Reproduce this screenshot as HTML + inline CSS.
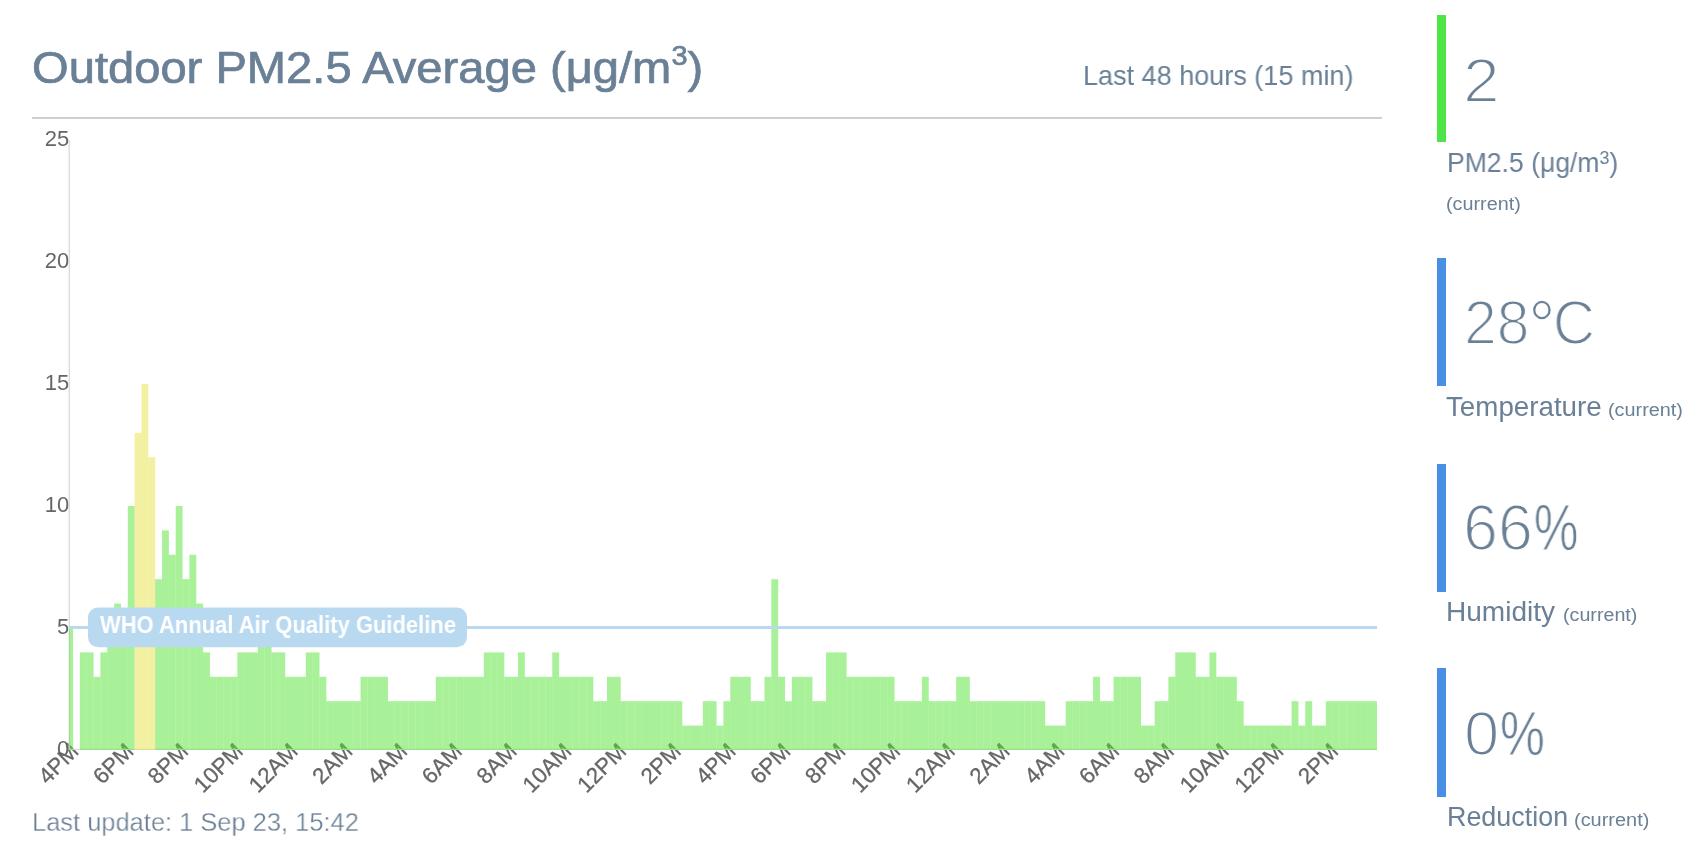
<!DOCTYPE html>
<html><head><meta charset="utf-8">
<style>
html,body{margin:0;padding:0;background:#fff;}
body{width:1700px;height:852px;position:relative;overflow:hidden;font-family:"Liberation Sans",sans-serif;}
.t{position:absolute;white-space:nowrap;color:#6a8096;line-height:1;transform-origin:0 0;will-change:transform;}
#hr{position:absolute;left:32px;top:117px;width:1350px;height:2px;background:#cfcfcf;}
.bar{position:absolute;left:1437px;width:9px;}
svg{position:absolute;left:0;top:0;will-change:transform;}
</style></head><body>
<div class="t" style="left:31.61px;top:45.80px;font-size:44.0px;font-weight:normal;transform:scaleX(1.0713);-webkit-text-stroke:0.7px #6a8096;">Outdoor PM2.5 Average (μg/m<span style="font-size:27px;position:relative;top:-17.8px">3</span>)</div>
<div class="t" style="left:1083.14px;top:62.00px;font-size:27.6px;font-weight:normal;transform:scaleX(0.9795);">Last 48 hours (15 min)</div>
<div id="hr"></div>
<svg width="1700" height="852" viewBox="0 0 1700 852">
<g font-family="Liberation Sans, sans-serif" font-size="22.3" fill="#666" stroke="#666" stroke-width="0.3">
<text transform="translate(80.00,752.7) rotate(-45)" text-anchor="end">4PM</text>
<text transform="translate(134.77,752.7) rotate(-45)" text-anchor="end">6PM</text>
<text transform="translate(189.54,752.7) rotate(-45)" text-anchor="end">8PM</text>
<text transform="translate(244.31,752.7) rotate(-45)" text-anchor="end">10PM</text>
<text transform="translate(299.08,752.7) rotate(-45)" text-anchor="end">12AM</text>
<text transform="translate(353.85,752.7) rotate(-45)" text-anchor="end">2AM</text>
<text transform="translate(408.62,752.7) rotate(-45)" text-anchor="end">4AM</text>
<text transform="translate(463.39,752.7) rotate(-45)" text-anchor="end">6AM</text>
<text transform="translate(518.16,752.7) rotate(-45)" text-anchor="end">8AM</text>
<text transform="translate(572.93,752.7) rotate(-45)" text-anchor="end">10AM</text>
<text transform="translate(627.70,752.7) rotate(-45)" text-anchor="end">12PM</text>
<text transform="translate(682.47,752.7) rotate(-45)" text-anchor="end">2PM</text>
<text transform="translate(737.24,752.7) rotate(-45)" text-anchor="end">4PM</text>
<text transform="translate(792.01,752.7) rotate(-45)" text-anchor="end">6PM</text>
<text transform="translate(846.78,752.7) rotate(-45)" text-anchor="end">8PM</text>
<text transform="translate(901.55,752.7) rotate(-45)" text-anchor="end">10PM</text>
<text transform="translate(956.32,752.7) rotate(-45)" text-anchor="end">12AM</text>
<text transform="translate(1011.09,752.7) rotate(-45)" text-anchor="end">2AM</text>
<text transform="translate(1065.86,752.7) rotate(-45)" text-anchor="end">4AM</text>
<text transform="translate(1120.63,752.7) rotate(-45)" text-anchor="end">6AM</text>
<text transform="translate(1175.40,752.7) rotate(-45)" text-anchor="end">8AM</text>
<text transform="translate(1230.17,752.7) rotate(-45)" text-anchor="end">10AM</text>
<text transform="translate(1284.94,752.7) rotate(-45)" text-anchor="end">12PM</text>
<text transform="translate(1339.71,752.7) rotate(-45)" text-anchor="end">2PM</text>
</g>
<g font-family="Liberation Sans, sans-serif" fill="#666">
<text x="69.3" y="756.0" text-anchor="end" font-size="22">0</text>
<text x="69.3" y="634.0" text-anchor="end" font-size="22">5</text>
<text x="69.3" y="512.0" text-anchor="end" font-size="22">10</text>
<text x="69.3" y="390.0" text-anchor="end" font-size="22">15</text>
<text x="69.3" y="268.0" text-anchor="end" font-size="22">20</text>
<text x="69.3" y="146.0" text-anchor="end" font-size="22">25</text>
</g>
<line x1="69.3" y1="140" x2="69.3" y2="750" stroke="#ddd" stroke-width="1.5"/>
<line x1="69" y1="749.4" x2="1377" y2="749.4" stroke="#ddd" stroke-width="1.2"/>
<g>
<rect x="69.00" y="628.00" width="4.02" height="122.00" fill="rgba(82,228,52,0.5)"/>
<rect x="79.87" y="652.40" width="6.85" height="97.60" fill="rgba(82,228,52,0.5)"/>
<rect x="86.72" y="652.40" width="6.85" height="97.60" fill="rgba(82,228,52,0.5)"/>
<rect x="93.56" y="676.80" width="6.85" height="73.20" fill="rgba(82,228,52,0.5)"/>
<rect x="100.41" y="652.40" width="6.85" height="97.60" fill="rgba(82,228,52,0.5)"/>
<rect x="107.25" y="628.00" width="6.85" height="122.00" fill="rgba(82,228,52,0.5)"/>
<rect x="114.10" y="603.60" width="6.85" height="146.40" fill="rgba(82,228,52,0.5)"/>
<rect x="120.94" y="628.00" width="6.85" height="122.00" fill="rgba(82,228,52,0.5)"/>
<rect x="127.79" y="506.00" width="6.85" height="244.00" fill="rgba(82,228,52,0.5)"/>
<rect x="134.64" y="432.80" width="6.85" height="317.20" fill="rgba(232,226,70,0.5)"/>
<rect x="141.48" y="384.00" width="6.85" height="366.00" fill="rgba(232,226,70,0.5)"/>
<rect x="148.33" y="457.20" width="6.85" height="292.80" fill="rgba(232,226,70,0.5)"/>
<rect x="155.18" y="579.20" width="6.85" height="170.80" fill="rgba(82,228,52,0.5)"/>
<rect x="162.02" y="530.40" width="6.85" height="219.60" fill="rgba(82,228,52,0.5)"/>
<rect x="168.87" y="554.80" width="6.85" height="195.20" fill="rgba(82,228,52,0.5)"/>
<rect x="175.71" y="506.00" width="6.85" height="244.00" fill="rgba(82,228,52,0.5)"/>
<rect x="182.56" y="579.20" width="6.85" height="170.80" fill="rgba(82,228,52,0.5)"/>
<rect x="189.41" y="554.80" width="6.85" height="195.20" fill="rgba(82,228,52,0.5)"/>
<rect x="196.25" y="603.60" width="6.85" height="146.40" fill="rgba(82,228,52,0.5)"/>
<rect x="203.10" y="652.40" width="6.85" height="97.60" fill="rgba(82,228,52,0.5)"/>
<rect x="209.94" y="676.80" width="6.85" height="73.20" fill="rgba(82,228,52,0.5)"/>
<rect x="216.79" y="676.80" width="6.85" height="73.20" fill="rgba(82,228,52,0.5)"/>
<rect x="223.63" y="676.80" width="6.85" height="73.20" fill="rgba(82,228,52,0.5)"/>
<rect x="230.48" y="676.80" width="6.85" height="73.20" fill="rgba(82,228,52,0.5)"/>
<rect x="237.33" y="652.40" width="6.85" height="97.60" fill="rgba(82,228,52,0.5)"/>
<rect x="244.17" y="652.40" width="6.85" height="97.60" fill="rgba(82,228,52,0.5)"/>
<rect x="251.02" y="652.40" width="6.85" height="97.60" fill="rgba(82,228,52,0.5)"/>
<rect x="257.87" y="628.00" width="6.85" height="122.00" fill="rgba(82,228,52,0.5)"/>
<rect x="264.71" y="628.00" width="6.85" height="122.00" fill="rgba(82,228,52,0.5)"/>
<rect x="271.56" y="652.40" width="6.85" height="97.60" fill="rgba(82,228,52,0.5)"/>
<rect x="278.40" y="652.40" width="6.85" height="97.60" fill="rgba(82,228,52,0.5)"/>
<rect x="285.25" y="676.80" width="6.85" height="73.20" fill="rgba(82,228,52,0.5)"/>
<rect x="292.10" y="676.80" width="6.85" height="73.20" fill="rgba(82,228,52,0.5)"/>
<rect x="298.94" y="676.80" width="6.85" height="73.20" fill="rgba(82,228,52,0.5)"/>
<rect x="305.79" y="652.40" width="6.85" height="97.60" fill="rgba(82,228,52,0.5)"/>
<rect x="312.63" y="652.40" width="6.85" height="97.60" fill="rgba(82,228,52,0.5)"/>
<rect x="319.48" y="676.80" width="6.85" height="73.20" fill="rgba(82,228,52,0.5)"/>
<rect x="326.33" y="701.20" width="6.85" height="48.80" fill="rgba(82,228,52,0.5)"/>
<rect x="333.17" y="701.20" width="6.85" height="48.80" fill="rgba(82,228,52,0.5)"/>
<rect x="340.02" y="701.20" width="6.85" height="48.80" fill="rgba(82,228,52,0.5)"/>
<rect x="346.86" y="701.20" width="6.85" height="48.80" fill="rgba(82,228,52,0.5)"/>
<rect x="353.71" y="701.20" width="6.85" height="48.80" fill="rgba(82,228,52,0.5)"/>
<rect x="360.55" y="676.80" width="6.85" height="73.20" fill="rgba(82,228,52,0.5)"/>
<rect x="367.40" y="676.80" width="6.85" height="73.20" fill="rgba(82,228,52,0.5)"/>
<rect x="374.25" y="676.80" width="6.85" height="73.20" fill="rgba(82,228,52,0.5)"/>
<rect x="381.09" y="676.80" width="6.85" height="73.20" fill="rgba(82,228,52,0.5)"/>
<rect x="387.94" y="701.20" width="6.85" height="48.80" fill="rgba(82,228,52,0.5)"/>
<rect x="394.78" y="701.20" width="6.85" height="48.80" fill="rgba(82,228,52,0.5)"/>
<rect x="401.63" y="701.20" width="6.85" height="48.80" fill="rgba(82,228,52,0.5)"/>
<rect x="408.48" y="701.20" width="6.85" height="48.80" fill="rgba(82,228,52,0.5)"/>
<rect x="415.32" y="701.20" width="6.85" height="48.80" fill="rgba(82,228,52,0.5)"/>
<rect x="422.17" y="701.20" width="6.85" height="48.80" fill="rgba(82,228,52,0.5)"/>
<rect x="429.01" y="701.20" width="6.85" height="48.80" fill="rgba(82,228,52,0.5)"/>
<rect x="435.86" y="676.80" width="6.85" height="73.20" fill="rgba(82,228,52,0.5)"/>
<rect x="442.71" y="676.80" width="6.85" height="73.20" fill="rgba(82,228,52,0.5)"/>
<rect x="449.55" y="676.80" width="6.85" height="73.20" fill="rgba(82,228,52,0.5)"/>
<rect x="456.40" y="676.80" width="6.85" height="73.20" fill="rgba(82,228,52,0.5)"/>
<rect x="463.25" y="676.80" width="6.85" height="73.20" fill="rgba(82,228,52,0.5)"/>
<rect x="470.09" y="676.80" width="6.85" height="73.20" fill="rgba(82,228,52,0.5)"/>
<rect x="476.94" y="676.80" width="6.85" height="73.20" fill="rgba(82,228,52,0.5)"/>
<rect x="483.78" y="652.40" width="6.85" height="97.60" fill="rgba(82,228,52,0.5)"/>
<rect x="490.63" y="652.40" width="6.85" height="97.60" fill="rgba(82,228,52,0.5)"/>
<rect x="497.48" y="652.40" width="6.85" height="97.60" fill="rgba(82,228,52,0.5)"/>
<rect x="504.32" y="676.80" width="6.85" height="73.20" fill="rgba(82,228,52,0.5)"/>
<rect x="511.17" y="676.80" width="6.85" height="73.20" fill="rgba(82,228,52,0.5)"/>
<rect x="518.01" y="652.40" width="6.85" height="97.60" fill="rgba(82,228,52,0.5)"/>
<rect x="524.86" y="676.80" width="6.85" height="73.20" fill="rgba(82,228,52,0.5)"/>
<rect x="531.71" y="676.80" width="6.85" height="73.20" fill="rgba(82,228,52,0.5)"/>
<rect x="538.55" y="676.80" width="6.85" height="73.20" fill="rgba(82,228,52,0.5)"/>
<rect x="545.40" y="676.80" width="6.85" height="73.20" fill="rgba(82,228,52,0.5)"/>
<rect x="552.24" y="652.40" width="6.85" height="97.60" fill="rgba(82,228,52,0.5)"/>
<rect x="559.09" y="676.80" width="6.85" height="73.20" fill="rgba(82,228,52,0.5)"/>
<rect x="565.93" y="676.80" width="6.85" height="73.20" fill="rgba(82,228,52,0.5)"/>
<rect x="572.78" y="676.80" width="6.85" height="73.20" fill="rgba(82,228,52,0.5)"/>
<rect x="579.63" y="676.80" width="6.85" height="73.20" fill="rgba(82,228,52,0.5)"/>
<rect x="586.47" y="676.80" width="6.85" height="73.20" fill="rgba(82,228,52,0.5)"/>
<rect x="593.32" y="701.20" width="6.85" height="48.80" fill="rgba(82,228,52,0.5)"/>
<rect x="600.17" y="701.20" width="6.85" height="48.80" fill="rgba(82,228,52,0.5)"/>
<rect x="607.01" y="676.80" width="6.85" height="73.20" fill="rgba(82,228,52,0.5)"/>
<rect x="613.86" y="676.80" width="6.85" height="73.20" fill="rgba(82,228,52,0.5)"/>
<rect x="620.70" y="701.20" width="6.85" height="48.80" fill="rgba(82,228,52,0.5)"/>
<rect x="627.55" y="701.20" width="6.85" height="48.80" fill="rgba(82,228,52,0.5)"/>
<rect x="634.39" y="701.20" width="6.85" height="48.80" fill="rgba(82,228,52,0.5)"/>
<rect x="641.24" y="701.20" width="6.85" height="48.80" fill="rgba(82,228,52,0.5)"/>
<rect x="648.09" y="701.20" width="6.85" height="48.80" fill="rgba(82,228,52,0.5)"/>
<rect x="654.93" y="701.20" width="6.85" height="48.80" fill="rgba(82,228,52,0.5)"/>
<rect x="661.78" y="701.20" width="6.85" height="48.80" fill="rgba(82,228,52,0.5)"/>
<rect x="668.62" y="701.20" width="6.85" height="48.80" fill="rgba(82,228,52,0.5)"/>
<rect x="675.47" y="701.20" width="6.85" height="48.80" fill="rgba(82,228,52,0.5)"/>
<rect x="682.32" y="725.60" width="6.85" height="24.40" fill="rgba(82,228,52,0.5)"/>
<rect x="689.16" y="725.60" width="6.85" height="24.40" fill="rgba(82,228,52,0.5)"/>
<rect x="696.01" y="725.60" width="6.85" height="24.40" fill="rgba(82,228,52,0.5)"/>
<rect x="702.86" y="701.20" width="6.85" height="48.80" fill="rgba(82,228,52,0.5)"/>
<rect x="709.70" y="701.20" width="6.85" height="48.80" fill="rgba(82,228,52,0.5)"/>
<rect x="716.55" y="725.60" width="6.85" height="24.40" fill="rgba(82,228,52,0.5)"/>
<rect x="723.39" y="701.20" width="6.85" height="48.80" fill="rgba(82,228,52,0.5)"/>
<rect x="730.24" y="676.80" width="6.85" height="73.20" fill="rgba(82,228,52,0.5)"/>
<rect x="737.09" y="676.80" width="6.85" height="73.20" fill="rgba(82,228,52,0.5)"/>
<rect x="743.93" y="676.80" width="6.85" height="73.20" fill="rgba(82,228,52,0.5)"/>
<rect x="750.78" y="701.20" width="6.85" height="48.80" fill="rgba(82,228,52,0.5)"/>
<rect x="757.62" y="701.20" width="6.85" height="48.80" fill="rgba(82,228,52,0.5)"/>
<rect x="764.47" y="676.80" width="6.85" height="73.20" fill="rgba(82,228,52,0.5)"/>
<rect x="771.32" y="579.20" width="6.85" height="170.80" fill="rgba(82,228,52,0.5)"/>
<rect x="778.16" y="676.80" width="6.85" height="73.20" fill="rgba(82,228,52,0.5)"/>
<rect x="785.01" y="701.20" width="6.85" height="48.80" fill="rgba(82,228,52,0.5)"/>
<rect x="791.85" y="676.80" width="6.85" height="73.20" fill="rgba(82,228,52,0.5)"/>
<rect x="798.70" y="676.80" width="6.85" height="73.20" fill="rgba(82,228,52,0.5)"/>
<rect x="805.55" y="676.80" width="6.85" height="73.20" fill="rgba(82,228,52,0.5)"/>
<rect x="812.39" y="701.20" width="6.85" height="48.80" fill="rgba(82,228,52,0.5)"/>
<rect x="819.24" y="701.20" width="6.85" height="48.80" fill="rgba(82,228,52,0.5)"/>
<rect x="826.08" y="652.40" width="6.85" height="97.60" fill="rgba(82,228,52,0.5)"/>
<rect x="832.93" y="652.40" width="6.85" height="97.60" fill="rgba(82,228,52,0.5)"/>
<rect x="839.77" y="652.40" width="6.85" height="97.60" fill="rgba(82,228,52,0.5)"/>
<rect x="846.62" y="676.80" width="6.85" height="73.20" fill="rgba(82,228,52,0.5)"/>
<rect x="853.47" y="676.80" width="6.85" height="73.20" fill="rgba(82,228,52,0.5)"/>
<rect x="860.31" y="676.80" width="6.85" height="73.20" fill="rgba(82,228,52,0.5)"/>
<rect x="867.16" y="676.80" width="6.85" height="73.20" fill="rgba(82,228,52,0.5)"/>
<rect x="874.00" y="676.80" width="6.85" height="73.20" fill="rgba(82,228,52,0.5)"/>
<rect x="880.85" y="676.80" width="6.85" height="73.20" fill="rgba(82,228,52,0.5)"/>
<rect x="887.70" y="676.80" width="6.85" height="73.20" fill="rgba(82,228,52,0.5)"/>
<rect x="894.54" y="701.20" width="6.85" height="48.80" fill="rgba(82,228,52,0.5)"/>
<rect x="901.39" y="701.20" width="6.85" height="48.80" fill="rgba(82,228,52,0.5)"/>
<rect x="908.24" y="701.20" width="6.85" height="48.80" fill="rgba(82,228,52,0.5)"/>
<rect x="915.08" y="701.20" width="6.85" height="48.80" fill="rgba(82,228,52,0.5)"/>
<rect x="921.93" y="676.80" width="6.85" height="73.20" fill="rgba(82,228,52,0.5)"/>
<rect x="928.77" y="701.20" width="6.85" height="48.80" fill="rgba(82,228,52,0.5)"/>
<rect x="935.62" y="701.20" width="6.85" height="48.80" fill="rgba(82,228,52,0.5)"/>
<rect x="942.47" y="701.20" width="6.85" height="48.80" fill="rgba(82,228,52,0.5)"/>
<rect x="949.31" y="701.20" width="6.85" height="48.80" fill="rgba(82,228,52,0.5)"/>
<rect x="956.16" y="676.80" width="6.85" height="73.20" fill="rgba(82,228,52,0.5)"/>
<rect x="963.00" y="676.80" width="6.85" height="73.20" fill="rgba(82,228,52,0.5)"/>
<rect x="969.85" y="701.20" width="6.85" height="48.80" fill="rgba(82,228,52,0.5)"/>
<rect x="976.70" y="701.20" width="6.85" height="48.80" fill="rgba(82,228,52,0.5)"/>
<rect x="983.54" y="701.20" width="6.85" height="48.80" fill="rgba(82,228,52,0.5)"/>
<rect x="990.39" y="701.20" width="6.85" height="48.80" fill="rgba(82,228,52,0.5)"/>
<rect x="997.23" y="701.20" width="6.85" height="48.80" fill="rgba(82,228,52,0.5)"/>
<rect x="1004.08" y="701.20" width="6.85" height="48.80" fill="rgba(82,228,52,0.5)"/>
<rect x="1010.93" y="701.20" width="6.85" height="48.80" fill="rgba(82,228,52,0.5)"/>
<rect x="1017.77" y="701.20" width="6.85" height="48.80" fill="rgba(82,228,52,0.5)"/>
<rect x="1024.62" y="701.20" width="6.85" height="48.80" fill="rgba(82,228,52,0.5)"/>
<rect x="1031.46" y="701.20" width="6.85" height="48.80" fill="rgba(82,228,52,0.5)"/>
<rect x="1038.31" y="701.20" width="6.85" height="48.80" fill="rgba(82,228,52,0.5)"/>
<rect x="1045.15" y="725.60" width="6.85" height="24.40" fill="rgba(82,228,52,0.5)"/>
<rect x="1052.00" y="725.60" width="6.85" height="24.40" fill="rgba(82,228,52,0.5)"/>
<rect x="1058.85" y="725.60" width="6.85" height="24.40" fill="rgba(82,228,52,0.5)"/>
<rect x="1065.69" y="701.20" width="6.85" height="48.80" fill="rgba(82,228,52,0.5)"/>
<rect x="1072.54" y="701.20" width="6.85" height="48.80" fill="rgba(82,228,52,0.5)"/>
<rect x="1079.38" y="701.20" width="6.85" height="48.80" fill="rgba(82,228,52,0.5)"/>
<rect x="1086.23" y="701.20" width="6.85" height="48.80" fill="rgba(82,228,52,0.5)"/>
<rect x="1093.08" y="676.80" width="6.85" height="73.20" fill="rgba(82,228,52,0.5)"/>
<rect x="1099.92" y="701.20" width="6.85" height="48.80" fill="rgba(82,228,52,0.5)"/>
<rect x="1106.77" y="701.20" width="6.85" height="48.80" fill="rgba(82,228,52,0.5)"/>
<rect x="1113.62" y="676.80" width="6.85" height="73.20" fill="rgba(82,228,52,0.5)"/>
<rect x="1120.46" y="676.80" width="6.85" height="73.20" fill="rgba(82,228,52,0.5)"/>
<rect x="1127.31" y="676.80" width="6.85" height="73.20" fill="rgba(82,228,52,0.5)"/>
<rect x="1134.15" y="676.80" width="6.85" height="73.20" fill="rgba(82,228,52,0.5)"/>
<rect x="1141.00" y="725.60" width="6.85" height="24.40" fill="rgba(82,228,52,0.5)"/>
<rect x="1147.85" y="725.60" width="6.85" height="24.40" fill="rgba(82,228,52,0.5)"/>
<rect x="1154.69" y="701.20" width="6.85" height="48.80" fill="rgba(82,228,52,0.5)"/>
<rect x="1161.54" y="701.20" width="6.85" height="48.80" fill="rgba(82,228,52,0.5)"/>
<rect x="1168.38" y="676.80" width="6.85" height="73.20" fill="rgba(82,228,52,0.5)"/>
<rect x="1175.23" y="652.40" width="6.85" height="97.60" fill="rgba(82,228,52,0.5)"/>
<rect x="1182.07" y="652.40" width="6.85" height="97.60" fill="rgba(82,228,52,0.5)"/>
<rect x="1188.92" y="652.40" width="6.85" height="97.60" fill="rgba(82,228,52,0.5)"/>
<rect x="1195.77" y="676.80" width="6.85" height="73.20" fill="rgba(82,228,52,0.5)"/>
<rect x="1202.61" y="676.80" width="6.85" height="73.20" fill="rgba(82,228,52,0.5)"/>
<rect x="1209.46" y="652.40" width="6.85" height="97.60" fill="rgba(82,228,52,0.5)"/>
<rect x="1216.30" y="676.80" width="6.85" height="73.20" fill="rgba(82,228,52,0.5)"/>
<rect x="1223.15" y="676.80" width="6.85" height="73.20" fill="rgba(82,228,52,0.5)"/>
<rect x="1230.00" y="676.80" width="6.85" height="73.20" fill="rgba(82,228,52,0.5)"/>
<rect x="1236.84" y="701.20" width="6.85" height="48.80" fill="rgba(82,228,52,0.5)"/>
<rect x="1243.69" y="725.60" width="6.85" height="24.40" fill="rgba(82,228,52,0.5)"/>
<rect x="1250.53" y="725.60" width="6.85" height="24.40" fill="rgba(82,228,52,0.5)"/>
<rect x="1257.38" y="725.60" width="6.85" height="24.40" fill="rgba(82,228,52,0.5)"/>
<rect x="1264.23" y="725.60" width="6.85" height="24.40" fill="rgba(82,228,52,0.5)"/>
<rect x="1271.07" y="725.60" width="6.85" height="24.40" fill="rgba(82,228,52,0.5)"/>
<rect x="1277.92" y="725.60" width="6.85" height="24.40" fill="rgba(82,228,52,0.5)"/>
<rect x="1284.76" y="725.60" width="6.85" height="24.40" fill="rgba(82,228,52,0.5)"/>
<rect x="1291.61" y="701.20" width="6.85" height="48.80" fill="rgba(82,228,52,0.5)"/>
<rect x="1298.46" y="725.60" width="6.85" height="24.40" fill="rgba(82,228,52,0.5)"/>
<rect x="1305.30" y="701.20" width="6.85" height="48.80" fill="rgba(82,228,52,0.5)"/>
<rect x="1312.15" y="725.60" width="6.85" height="24.40" fill="rgba(82,228,52,0.5)"/>
<rect x="1318.99" y="725.60" width="6.85" height="24.40" fill="rgba(82,228,52,0.5)"/>
<rect x="1325.84" y="701.20" width="6.85" height="48.80" fill="rgba(82,228,52,0.5)"/>
<rect x="1332.69" y="701.20" width="6.85" height="48.80" fill="rgba(82,228,52,0.5)"/>
<rect x="1339.53" y="701.20" width="6.85" height="48.80" fill="rgba(82,228,52,0.5)"/>
<rect x="1346.38" y="701.20" width="6.85" height="48.80" fill="rgba(82,228,52,0.5)"/>
<rect x="1353.22" y="701.20" width="6.85" height="48.80" fill="rgba(82,228,52,0.5)"/>
<rect x="1360.07" y="701.20" width="6.85" height="48.80" fill="rgba(82,228,52,0.5)"/>
<rect x="1366.92" y="701.20" width="6.85" height="48.80" fill="rgba(82,228,52,0.5)"/>
<rect x="1373.76" y="701.20" width="3.24" height="48.80" fill="rgba(82,228,52,0.5)"/>
</g>
<line x1="69" y1="627.6" x2="1377" y2="627.6" stroke="#b9d9f1" stroke-width="3"/>
<rect x="88" y="607.6" width="379" height="39.6" rx="10" ry="10" fill="#b9d9f1"/>
</svg>
<div class="t" style="left:100.0px;top:613.50px;font-size:23.0px;font-weight:bold;color:#fff;transform:scaleX(0.9551)">WHO Annual Air Quality Guideline</div>
<div class="t" style="left:31.83px;top:809.70px;font-size:25.9px;font-weight:normal;transform:scaleX(0.9827);-webkit-text-stroke:0.3px #fff;">Last update: 1 Sep 23, 15:42</div>

<div class="bar" style="top:15px;height:127px;background:#4fe447;"></div>
<div class="t" style="left:1462.85px;top:48.60px;font-size:63.5px;font-weight:normal;transform:scaleX(1.037);-webkit-text-stroke:2px #fff;">2</div>
<div class="t" style="left:1446.53px;top:149.90px;font-size:26.9px;font-weight:normal;transform:scaleX(0.9871);">PM2.5 (μg/m<span style="font-size:18px;position:relative;top:-8.4px">3</span>)</div>
<div class="t" style="left:1445.9px;top:195.40px;font-size:18px;font-weight:normal;transform:scaleX(1.1);">(current)</div>

<div class="bar" style="top:258px;height:128px;background:#4a8fe6;"></div>
<div class="t" style="left:1463.56px;top:283.00px;font-size:63.0px;font-weight:normal;transform:scaleX(0.9341);-webkit-text-stroke:2px #fff;">28<span style="font-size:72px;-webkit-text-stroke:1.4px #fff;position:relative;top:6px;margin:0 -3px 0 -1px">°</span>C</div>
<div class="t" style="left:1445.67px;top:393.90px;font-size:26.9px;font-weight:normal;transform:scaleX(1.0315);">Temperature</div>
<div class="t" style="left:1607.6px;top:400.90px;font-size:18px;font-weight:normal;transform:scaleX(1.1015);">(current)</div>

<div class="bar" style="top:464px;height:128px;background:#4a8fe6;"></div>
<div class="t" style="left:1463.07px;top:496.00px;font-size:64.0px;font-weight:normal;transform:scaleX(0.9829);-webkit-text-stroke:2px #fff;">66<span style="display:inline-block;transform:scaleX(0.8);transform-origin:0 0;-webkit-text-stroke:1.0px #fff;margin-left:1px">%</span></div>
<div class="t" style="left:1446.41px;top:599.20px;font-size:26.9px;font-weight:normal;transform:scaleX(1.0427);">Humidity</div>
<div class="t" style="left:1562.71px;top:606.20px;font-size:18px;font-weight:normal;transform:scaleX(1.0939);">(current)</div>

<div class="bar" style="top:668px;height:129px;background:#4a8fe6;"></div>
<div class="t" style="left:1464.01px;top:702.20px;font-size:63.5px;font-weight:normal;transform:scaleX(0.9961);-webkit-text-stroke:2px #fff;">0<span style="display:inline-block;transform:scaleX(0.8);transform-origin:0 0;-webkit-text-stroke:1.0px #fff;margin-left:1px">%</span></div>
<div class="t" style="left:1446.5px;top:803.90px;font-size:26.9px;font-weight:normal;transform:scaleX(0.9992);">Reduction</div>
<div class="t" style="left:1573.59px;top:810.90px;font-size:18px;font-weight:normal;transform:scaleX(1.1076);">(current)</div>
</body></html>
